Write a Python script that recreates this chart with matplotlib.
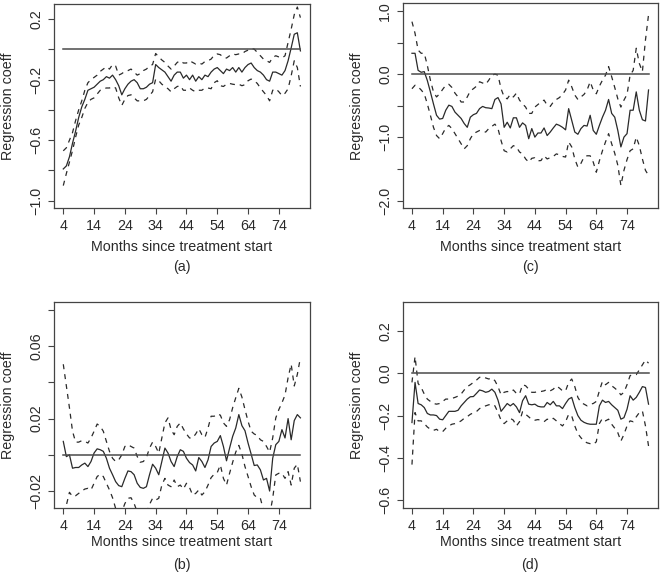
"""
Regression coefficients by months since treatment start, four panels
"""

import matplotlib
matplotlib.use('Agg')
import matplotlib.pyplot as plt

plt.rcParams['font.family'] = ['Liberation Sans', 'DejaVu Sans']

MONTHS = list(range(4, 82))
XTICKS = [4, 14, 24, 34, 44, 54, 64, 74]

# panel (a)
a_est = [-0.79, -0.77, -0.71, -0.62, -0.54, -0.45, -0.38, -0.33, -0.27, -0.26,
         -0.25, -0.23, -0.21, -0.20, -0.18, -0.19, -0.17, -0.20, -0.24, -0.30,
         -0.26, -0.23, -0.21, -0.20, -0.22, -0.26, -0.26, -0.25, -0.23, -0.22,
         -0.10, -0.12, -0.135, -0.15, -0.18, -0.21, -0.17, -0.15, -0.15, -0.19,
         -0.17, -0.20, -0.17, -0.21, -0.18, -0.20, -0.17, -0.18, -0.15, -0.13,
         -0.12, -0.14, -0.16, -0.13, -0.14, -0.12, -0.15, -0.12, -0.15, -0.12,
         -0.10, -0.09, -0.12, -0.14, -0.15, -0.17, -0.20, -0.21, -0.15, -0.15,
         -0.16, -0.17, -0.14, -0.075, 0.01, 0.10, 0.11, -0.01]
a_upper = [-0.67, -0.65, -0.60, -0.55, -0.47, -0.40, -0.34, -0.27, -0.22, -0.20,
           -0.185, -0.17, -0.145, -0.13, -0.115, -0.13, -0.10, -0.11, -0.17, -0.16,
           -0.145, -0.14, -0.13, -0.15, -0.17, -0.16, -0.14, -0.13, -0.11, -0.10,
           -0.027, -0.05, -0.07, -0.086, -0.11, -0.13, -0.11, -0.086, -0.075, -0.09,
           -0.09, -0.075, -0.086, -0.097, -0.09, -0.097, -0.08, -0.075, -0.064, -0.038,
           -0.03, -0.035, -0.053, -0.057, -0.042, -0.03, -0.035, -0.03, -0.03, -0.014,
           -0.005, 0.006, 0.002, -0.02, -0.042, -0.064, -0.075, -0.086, -0.053, -0.042,
           -0.05, -0.057, -0.042, 0.046, 0.134, 0.23, 0.28, 0.21]
a_lower = [-0.90, -0.82, -0.745, -0.668, -0.58, -0.50, -0.45, -0.39, -0.35, -0.33,
           -0.32, -0.295, -0.27, -0.26, -0.255, -0.255, -0.245, -0.255, -0.32, -0.37,
           -0.33, -0.305, -0.30, -0.32, -0.34, -0.34, -0.34, -0.33, -0.305, -0.28,
           -0.196, -0.207, -0.23, -0.245, -0.26, -0.28, -0.26, -0.245, -0.24, -0.27,
           -0.27, -0.255, -0.27, -0.28, -0.27, -0.27, -0.255, -0.255, -0.26, -0.22,
           -0.207, -0.24, -0.245, -0.23, -0.225, -0.23, -0.233, -0.23, -0.24, -0.233,
           -0.207, -0.196, -0.207, -0.225, -0.255, -0.28, -0.305, -0.34, -0.27, -0.26,
           -0.28, -0.305, -0.29, -0.26, -0.174, -0.075, -0.12, -0.245]

# panel (b)
b_est = [0.0074, -0.001, 0.0, -0.0074, -0.007, -0.007, -0.0056, -0.0046, -0.0065, -0.0037,
         0.001, 0.0033, 0.0028, 0.0019, -0.0019, -0.0074, -0.011, -0.0148, -0.017, -0.0176,
         -0.013, -0.0089, -0.0093, -0.011, -0.0157, -0.018, -0.0185, -0.0176, -0.011, -0.0052,
         -0.0074, -0.011, -0.0037, 0.0037, 0.001, -0.0037, -0.0065, -0.001, 0.0028, 0.0019,
         -0.0019, -0.0043, -0.0056, -0.0089, -0.0015, -0.0037, -0.007, -0.0028, 0.0046, 0.0065,
         0.0074, 0.0106, 0.0046, -0.0033, 0.0037, 0.0102, 0.0148, 0.0222, 0.0161, 0.0133,
         0.0065, 0.0004, -0.0059, -0.0056, -0.0083, -0.0139, -0.013, -0.02, -0.0019, 0.0056,
         0.0074, 0.0139, 0.0093, 0.02, 0.0083, 0.0189, 0.0222, 0.0204]
b_upper = [0.05, 0.038, 0.026, 0.013, 0.007, 0.007, 0.0078, 0.0074, 0.0065, 0.0093,
           0.013, 0.017, 0.0157, 0.013, 0.0074, 0.0019, -0.0019, -0.0037, -0.0028, 0.0,
           0.0046, 0.0056, 0.0046, 0.0037, -0.0009, -0.0041, -0.0037, -0.0015, 0.0037, 0.007,
           0.0046, 0.0009, 0.0093, 0.0176, 0.0204, 0.0139, 0.0111, 0.0157, 0.0176, 0.0143,
           0.0115, 0.0093, 0.0093, 0.0115, 0.0144, 0.0111, 0.0096, 0.0148, 0.0213, 0.0213,
           0.0226, 0.0219, 0.0176, 0.0157, 0.0194, 0.026, 0.0315, 0.0367, 0.0319, 0.025,
           0.0185, 0.013, 0.0115, 0.0107, 0.0083, 0.0074, 0.0046, 0.0015, 0.0093, 0.0204,
           0.025, 0.0287, 0.033, 0.0426, 0.05, 0.038, 0.0444, 0.0537]
b_lower = [-0.038, -0.0278, -0.0207, -0.023, -0.0226, -0.0213, -0.02, -0.0189, -0.0185, -0.0194,
           -0.0157, -0.012, -0.0107, -0.012, -0.0157, -0.0194, -0.0237, -0.0296, -0.0324, -0.0315,
           -0.0269, -0.024, -0.0237, -0.0269, -0.0315, -0.0333, -0.0333, -0.0324, -0.0274, -0.024,
           -0.025, -0.024, -0.0167, -0.013, -0.0167, -0.0176, -0.0139, -0.0176, -0.0167, -0.0189,
           -0.0157, -0.0181, -0.0222, -0.0213, -0.0194, -0.0222, -0.0204, -0.0167, -0.0126, -0.0107,
           -0.0098, -0.0056, -0.013, -0.0167, -0.0102, -0.0041, 0.0015, 0.0052, 0.0004, -0.0065,
           -0.012, -0.0176, -0.0222, -0.0237, -0.024, -0.0306, -0.0315, -0.0333, -0.024, -0.0111,
           -0.0102, -0.0102, -0.013, -0.0093, -0.0167, -0.0074, -0.0052, -0.0148]

# panel (c)
c_est = [0.33, 0.33, 0.06, 0.03, 0.04, -0.10, -0.28, -0.47, -0.65, -0.71,
         -0.70, -0.57, -0.49, -0.51, -0.60, -0.65, -0.70, -0.78, -0.84, -0.68,
         -0.64, -0.62, -0.545, -0.51, -0.53, -0.535, -0.545, -0.40, -0.37, -0.47,
         -0.84, -0.76, -0.85, -0.69, -0.69, -0.84, -0.77, -0.81, -1.02, -0.86,
         -0.995, -0.93, -0.93, -0.85, -0.97, -0.915, -0.85, -0.79, -0.81, -0.84,
         -0.88, -0.545, -0.73, -0.915, -0.95, -0.86, -0.81, -0.82, -0.65, -0.89,
         -0.95, -0.81, -0.68, -0.57, -0.40, -0.62, -0.68, -0.89, -1.15, -0.995,
         -0.94, -0.57, -0.57, -0.28, -0.57, -0.72, -0.74, -0.25]
c_upper = [0.83, 0.645, 0.38, 0.33, 0.33, 0.14, -0.095, -0.28, -0.36, -0.31,
           -0.24, -0.175, -0.16, -0.21, -0.30, -0.36, -0.44, -0.44, -0.36, -0.265,
           -0.23, -0.19, -0.12, -0.14, -0.16, -0.095, -0.016, 0.0, -0.016, -0.23,
           -0.36, -0.39, -0.32, -0.36, -0.30, -0.41, -0.47, -0.52, -0.62, -0.62,
           -0.52, -0.48, -0.44, -0.41, -0.49, -0.51, -0.44, -0.40, -0.37, -0.32,
           -0.25, -0.095, -0.20, -0.33, -0.40, -0.36, -0.32, -0.25, -0.12, -0.25,
           -0.31, -0.19, -0.095, -0.016, 0.12, -0.04, -0.21, -0.39, -0.52, -0.41,
           -0.32, -0.016, 0.06, 0.41, 0.17, 0.04, 0.54, 0.94]
c_lower = [-0.23, -0.175, -0.20, -0.25, -0.31, -0.47, -0.65, -0.84, -0.97, -1.02,
           -0.94, -0.85, -0.81, -0.86, -0.94, -1.02, -1.10, -1.18, -1.13, -1.02,
           -0.94, -0.915, -0.89, -0.905, -0.915, -0.86, -0.825, -0.79, -0.86, -1.05,
           -1.21, -1.23, -1.18, -1.13, -1.15, -1.23, -1.26, -1.34, -1.39, -1.33,
           -1.32, -1.37, -1.365, -1.29, -1.34, -1.32, -1.30, -1.26, -1.275, -1.30,
           -1.31, -1.07, -1.15, -1.34, -1.47, -1.41, -1.31, -1.29, -1.29, -1.39,
           -1.55, -1.37, -1.21, -1.07, -0.94, -1.10, -1.25, -1.44, -1.76, -1.52,
           -1.35, -1.21, -1.18, -0.995, -1.13, -1.34, -1.52, -1.60]

# panel (d)
d_est = [-0.233, -0.043, -0.143, -0.149, -0.162, -0.19, -0.197, -0.197, -0.20, -0.217,
         -0.22, -0.20, -0.18, -0.18, -0.18, -0.175, -0.154, -0.138, -0.122, -0.111,
         -0.11, -0.095, -0.079, -0.083, -0.09, -0.086, -0.075, -0.09, -0.127, -0.18,
         -0.162, -0.143, -0.154, -0.143, -0.159, -0.186, -0.13, -0.106, -0.146, -0.149,
         -0.146, -0.156, -0.159, -0.159, -0.138, -0.149, -0.133, -0.154, -0.154, -0.167,
         -0.143, -0.122, -0.114, -0.162, -0.20, -0.222, -0.232, -0.238, -0.241, -0.241,
         -0.241, -0.154, -0.127, -0.138, -0.133, -0.149, -0.162, -0.175, -0.217, -0.21,
         -0.17, -0.106, -0.127, -0.114, -0.09, -0.063, -0.067, -0.146]
d_upper = [-0.043, 0.079, -0.048, -0.067, -0.098, -0.122, -0.133, -0.143, -0.146, -0.143,
           -0.133, -0.122, -0.122, -0.119, -0.114, -0.108, -0.098, -0.079, -0.063, -0.054,
           -0.043, -0.032, -0.019, -0.016, -0.022, -0.027, -0.022, -0.035, -0.063, -0.102,
           -0.09, -0.086, -0.09, -0.079, -0.095, -0.098, -0.054, -0.059, -0.075, -0.09,
           -0.09, -0.086, -0.086, -0.083, -0.076, -0.083, -0.075, -0.06, -0.07, -0.083,
           -0.083, -0.043, -0.027, -0.063, -0.114, -0.138, -0.146, -0.154, -0.146, -0.143,
           -0.133, -0.083, -0.038, -0.054, -0.043, -0.059, -0.07, -0.083, -0.102, -0.09,
           -0.054, -0.011, -0.006, -0.006, 0.016, 0.04, 0.063, 0.048]
d_lower = [-0.432, -0.186, -0.225, -0.225, -0.238, -0.254, -0.265, -0.27, -0.265, -0.276,
           -0.276, -0.26, -0.249, -0.241, -0.238, -0.233, -0.225, -0.213, -0.205, -0.194,
           -0.187, -0.181, -0.167, -0.159, -0.154, -0.149, -0.146, -0.154, -0.186, -0.222,
           -0.238, -0.225, -0.213, -0.222, -0.249, -0.229, -0.181, -0.194, -0.206, -0.219,
           -0.222, -0.219, -0.222, -0.229, -0.217, -0.222, -0.213, -0.225, -0.238, -0.249,
           -0.229, -0.194, -0.202, -0.249, -0.286, -0.305, -0.321, -0.329, -0.333, -0.337,
           -0.324, -0.238, -0.213, -0.225, -0.217, -0.241, -0.26, -0.281, -0.321, -0.289,
           -0.249, -0.225, -0.229, -0.206, -0.186, -0.178, -0.249, -0.344]

W, H = 660, 573
FS = 10.3
INK = '#2a2a2a'


def add_panel(fig, box, est, upper, lower, ylim, yticks, ylabels, tag, label_y):
    left, top, right, bottom = box
    ax = fig.add_axes([left / W, 1 - bottom / H, (right - left) / W, (bottom - top) / H])

    ax.plot(MONTHS, est, color=INK, lw=0.9)
    ax.plot(MONTHS, upper, color=INK, lw=0.9, ls=(0, (4, 4)))
    ax.plot(MONTHS, lower, color=INK, lw=0.9, ls=(0, (4, 4)))
    ax.axhline(0, xmin=3.08 / 83.16, xmax=80.08 / 83.16, color='#4a4a4a', lw=1.1)

    ax.set_xlim(0.92, 84.08)
    ax.set_ylim(*ylim)
    ax.set_xticks(XTICKS)
    ax.set_xticklabels([str(t) for t in XTICKS], fontsize=FS)
    ax.set_yticks(yticks)
    ax.set_yticklabels(ylabels, fontsize=FS, rotation=90, va='center')

    for sp in ax.spines.values():
        sp.set_color('#444444')
        sp.set_linewidth(0.9)
    ax.tick_params(direction='out', length=4.5, width=0.8, color='#444444',
                   labelcolor=INK, pad=3)
    ax.tick_params(axis='x', pad=3.5)

    cx = (left + right) / 2
    fig.text(cx / W, 1 - label_y[0] / H, 'Months since treatment start',
             ha='center', va='center', fontsize=FS, color=INK)
    fig.text(cx / W, 1 - label_y[1] / H, tag,
             ha='center', va='center', fontsize=FS, color=INK)
    fig.text((left - 45.5) / W, 1 - (top + bottom) / 2 / H, 'Regression coeff',
             ha='center', va='center', rotation=90, fontsize=FS, color=INK)
    return ax


def draw():
    fig = plt.figure(figsize=(6.6, 5.73), dpi=100)

    add_panel(fig, (53.8, 4.0, 309.9, 208.3), a_est, a_upper, a_lower,
              (-1.05, 0.30),
              [-1.0, -0.8, -0.6, -0.4, -0.2, 0.0, 0.2],
              ['\u22121.0', '', '\u22120.6', '', '\u22120.2', '', '0.2'],
              '(a)', (247, 267))
    add_panel(fig, (402.5, 3.3, 658.0, 208.3), c_est, c_upper, c_lower,
              (-2.12, 1.12),
              [-2.0, -1.5, -1.0, -0.5, 0.0, 0.5, 1.0],
              ['\u22122.0', '', '\u22121.0', '', '0.0', '', '1.0'],
              '(c)', (247, 267))
    add_panel(fig, (53.8, 302.3, 309.9, 507.7), b_est, b_upper, b_lower,
              (-0.0292, 0.0842),
              [-0.02, 0.0, 0.02, 0.04, 0.06, 0.08],
              ['\u22120.02', '', '0.02', '', '0.06', ''],
              '(b)', (542, 565))
    add_panel(fig, (402.5, 302.3, 658.0, 507.7), d_est, d_upper, d_lower,
              (-0.636, 0.336),
              [-0.6, -0.4, -0.2, 0.0, 0.2],
              ['\u22120.6', '\u22120.4', '\u22120.2', '0.0', '0.2'],
              '(d)', (542, 565))

    fig.savefig('out.png', dpi=100, facecolor='white')


if __name__ == '__main__':
    draw()
